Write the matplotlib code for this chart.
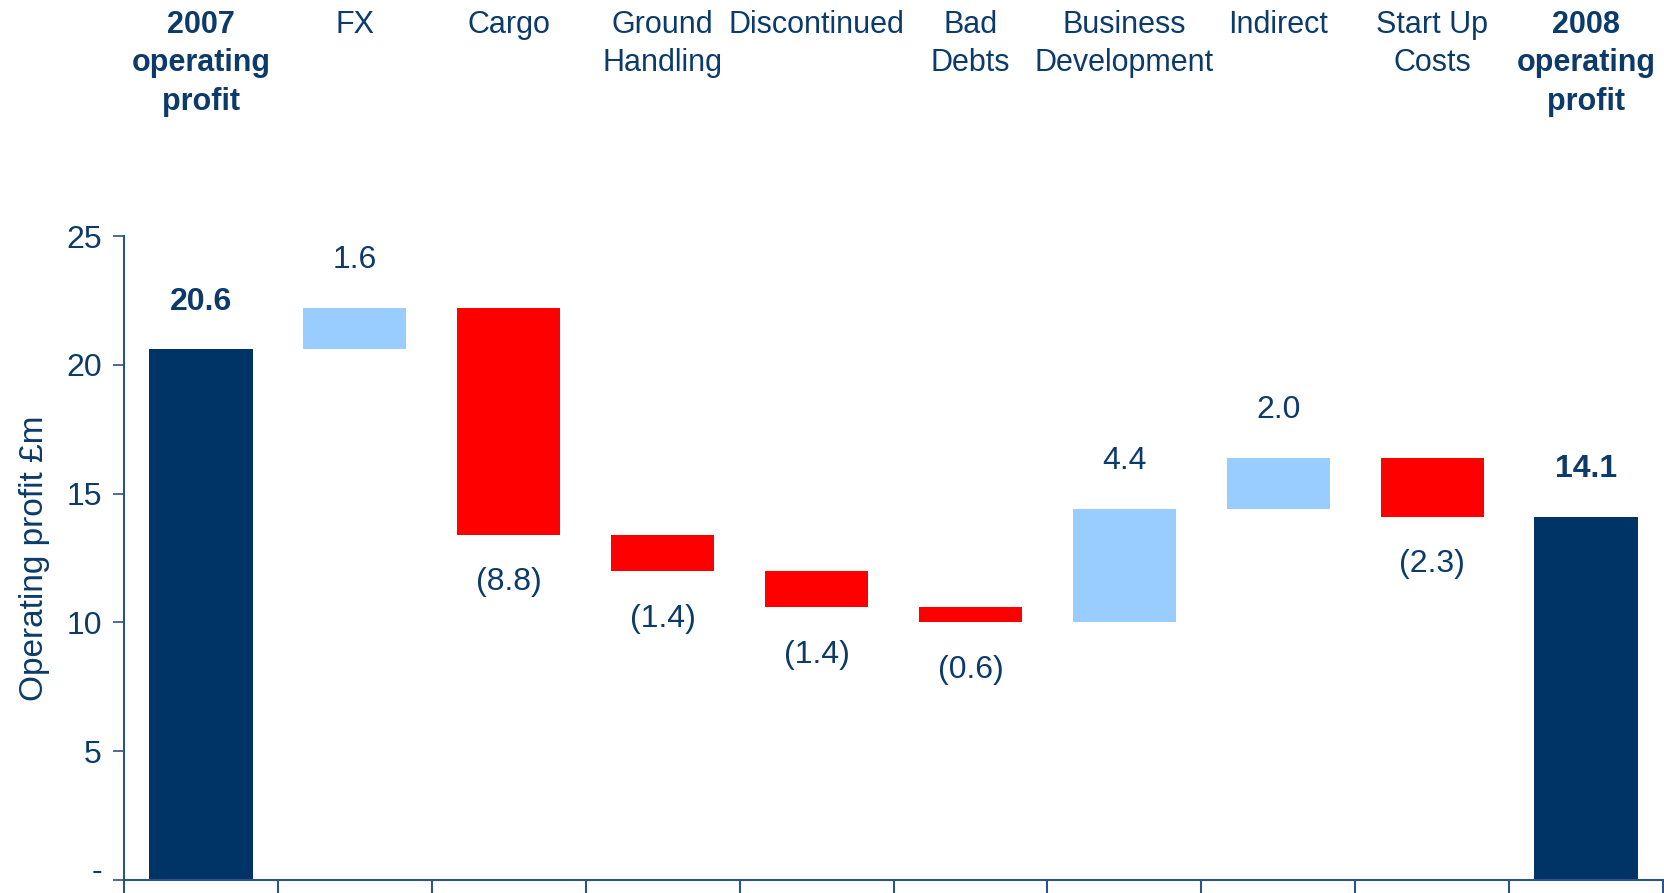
import matplotlib
matplotlib.use("Agg")
import matplotlib.pyplot as plt
from matplotlib import font_manager

# Operating profit bridge, 2007 -> 2008 (GBP m)
categories = ["2007\noperating\nprofit", "FX", "Cargo", "Ground\nHandling",
              "Discontinued", "Bad\nDebts", "Business\nDevelopment", "Indirect",
              "Start Up\nCosts", "2008\noperating\nprofit"]
changes = [20.6, 1.6, -8.8, -1.4, -1.4, -0.6, 4.4, 2.0, -2.3, 14.1]
labels = ["20.6", "1.6", "(8.8)", "(1.4)", "(1.4)", "(0.6)", "4.4", "2.0", "(2.3)", "14.1"]
is_total = [True, False, False, False, False, False, False, False, False, True]
yticks = [0, 5, 10, 15, 20, 25]
ytick_labels = ["-", "5", "10", "15", "20", "25"]

NAVY = "#003366"
LIGHT = "#99CCFF"
RED = "#FF0000"
TEXT = "#0B3A6B"
AXIS = "#2E5483"

available = {f.name for f in font_manager.fontManager.ttflist}
family = "Liberation Sans Narrow" if "Liberation Sans Narrow" in available else "Liberation Sans"
plt.rcParams["font.family"] = [family, "DejaVu Sans"]

fig = plt.figure(figsize=(16.65, 8.93), dpi=100)
ax = fig.add_axes([0.0745, 0.0146, 0.9243, 0.7211])

running = 0.0
for i, (v, lab, tot) in enumerate(zip(changes, labels, is_total)):
    x = i + 0.5
    if tot:
        bottom, height, color = 0.0, v, NAVY
        running = v
    else:
        start = running
        running = start + v
        bottom, height = min(start, running), abs(v)
        color = LIGHT if v > 0 else RED
    ax.bar(x, height, bottom=bottom, width=0.67, color=color, linewidth=0)
    if tot or v > 0:
        ax.text(x, bottom + height + 1.85, lab, ha="center", va="center",
                fontsize=23, color=TEXT, fontweight="bold" if tot else "normal")
    else:
        ax.text(x, bottom - 1.85, lab, ha="center", va="center",
                fontsize=23, color=TEXT)

for i, (cat, tot) in enumerate(zip(categories, is_total)):
    ax.text(i + 0.5, 1.0 + 226 / 644, cat, transform=ax.get_xaxis_transform(),
            ha="center", va="top", fontsize=22, color=TEXT, linespacing=1.36,
            fontweight="bold" if tot else "normal")

ax.set_xlim(0, 10)
ax.set_ylim(0, 25)
ax.set_xticks(range(0, 11))
ax.set_xticklabels([])
ax.set_yticks(yticks)
ax.set_yticklabels([""] + ytick_labels[1:])
ax.tick_params(axis="y", direction="out", length=8, width=1.2, colors=AXIS,
               labelsize=23, labelcolor=TEXT, pad=8)
ax.tick_params(axis="x", direction="out", length=14, width=1.5, colors=AXIS)
# zero label drawn as its own text so it stays inside the figure
ax.annotate(ytick_labels[0], xy=(0, 0.0), xycoords=ax.get_yaxis_transform(),
            xytext=(-16, -5), textcoords="offset points", ha="right", va="bottom",
            fontsize=23, color=TEXT)
for side in ("top", "right"):
    ax.spines[side].set_visible(False)
for side in ("left", "bottom"):
    ax.spines[side].set_color(AXIS)
    ax.spines[side].set_linewidth(1.5)

ax.set_ylabel("Operating profit £m", fontsize=24, color=TEXT, labelpad=12)

fig.savefig("out.png", dpi=100)
